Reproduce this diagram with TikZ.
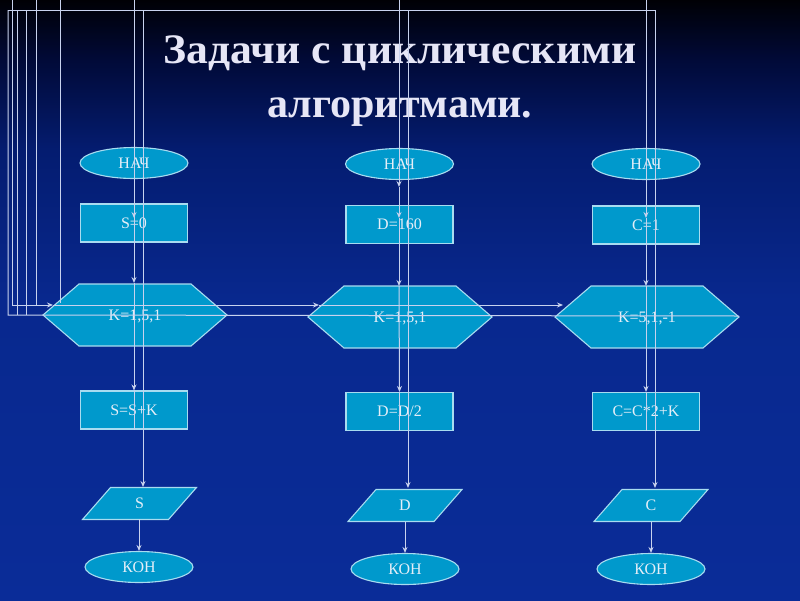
\documentclass[tikz,border=0pt]{standalone}
\usepackage{fontspec}
\setmainfont{Liberation Serif}
\usetikzlibrary{arrows.meta,shapes.geometric}
\definecolor{bx}{HTML}{0099CC}
\definecolor{bd}{HTML}{A8DCF0}
\definecolor{ln}{HTML}{C8D2EE}
\definecolor{txt}{HTML}{E4EEF8}
\definecolor{ttl}{HTML}{E6E6F6}
\definecolor{bga}{HTML}{0A2C98}
\definecolor{bgb}{HTML}{08288E}
\definecolor{bgc}{HTML}{041C70}
\definecolor{bgd}{HTML}{010A38}
\definecolor{bge}{HTML}{000005}
\pgfdeclareverticalshading{bgsh}{100bp}{color(0bp)=(bga); color(25bp)=(bga); color(50bp)=(bgb); color(62.5bp)=(bgc); color(70bp)=(bgd); color(75bp)=(bge); color(100bp)=(bge)}
\tikzset{
  blk/.style={draw=bd, fill=bx, line width=1.1pt},
  lbl/.style={text=txt, font=\fontsize{16}{18}\selectfont, inner sep=0pt},
  term/.style={blk, lbl, ellipse, minimum width=108pt, minimum height=31pt},
  proc/.style={blk, lbl, rectangle, minimum width=107pt, minimum height=38pt},
  conn/.style={draw=ln, line width=1pt},
  arr/.style={conn, -{Stealth[length=6pt,width=5pt]}},
  ttlsty/.style={text=ttl, font=\fontsize{42}{50}\selectfont\bfseries, anchor=base, inner sep=0pt}
}
\newcommand\myhex[4]{% name, cx, cy, text
  \draw[blk] ({#2-92},#3) -- ({#2-56},{#3-31}) -- ({#2+56},{#3-31}) -- ({#2+92},#3) -- ({#2+56},{#3+31}) -- ({#2-56},{#3+31}) -- cycle;
  \node[lbl] (#1) at (#2,{#3+1}) {#4};}
\newcommand\mypar[4]{% name, cx, cy, text
  \draw[blk] ({#2-29},{#3-16}) -- ({#2+57},{#3-16}) -- ({#2+29},{#3+16}) -- ({#2-57},{#3+16}) -- cycle;
  \node[lbl] (#1) at (#2,#3) {#4};}
\begin{document}
\begin{tikzpicture}[x=1pt,y=-1pt]
\useasboundingbox (0,0) rectangle (800,600);
\shade[shading=bgsh] (0,0) rectangle (800,600);

% title
\node[ttlsty] (t1) at (400,63) {\scalebox{1.04}[1]{Задачи с циклическими}};
\node[ttlsty] (t2) at (400,117) {алгоритмами.};

% column 1
\node[term] (n1) at (134,163) {НАЧ};
\node[proc] (a1) at (134,223) {S=0};
\myhex{h1}{135}{315}{K=1,5,1}
\node[proc] (b1) at (134,410) {S=S+K};
\mypar{o1}{139.5}{503.5}{S}
\node[term] (k1) at (139,567) {КОН};

% column 2
\node[term] (n2) at (399.5,164) {НАЧ};
\node[proc] (a2) at (399.5,224.5) {D=160};
\myhex{h2}{400}{317}{K=1,5,1}
\node[proc] (b2) at (399.5,411.5) {D=D/2};
\mypar{o2}{405}{505.5}{D}
\node[term] (k2) at (405,569) {КОН};

% column 3
\node[term] (n3) at (646,164) {НАЧ};
\node[proc] (a3) at (646,225) {C=1};
\myhex{h3}{647}{317}{K=5,1,-1}
\node[proc] (b3) at (646,411.5) {C=C*2+K};
\mypar{o3}{651}{505.5}{C}
\node[term] (k3) at (651,569) {КОН};

% coordinates
\coordinate (c1t) at (134,0);   \coordinate (c1h) at (134,283);
\coordinate (c2t) at (399,0);   \coordinate (c2h) at (399,286);
\coordinate (c3t) at (646,0);   \coordinate (c3h) at (646,286);
\coordinate (s1) at (143,10);   \coordinate (s1e) at (143,487);
\coordinate (s2) at (408,10);   \coordinate (s2e) at (408,488);
\coordinate (s3) at (655,10);   \coordinate (s3e) at (655,488);
\coordinate (o1b) at (139,519); \coordinate (o2b) at (405,522); \coordinate (o3b) at (651,522);
\coordinate (w1) at (53,305);   \coordinate (w2) at (319,305);  \coordinate (w3) at (563,305);
\coordinate (lx) at (8,10);     \coordinate (lb) at (8,315);    \coordinate (le) at (739,316);

% connectors
\draw[conn] (lx) -- (s3);
\draw[conn] (lx) -- (lb) -- (le);
\draw[conn] (17,10) -- (17,315);
\draw[conn] (26,10) -- (26,315);
\draw[conn] (36,0) -- (36,305);
\draw[conn] (60,0) -- (60,303);
\draw[arr] (12,0) |- (w1);
\draw[arr] (w1) -- (w2);
\draw[arr] (w2) -- (w3);

\draw[arr] (c1t) -- (c1h);
\draw[arr] (c1h) -- (b1.north);
\draw[conn] (b1.north) -- (b1.south);
\draw[arr] (n1.south) -- (134,218);
\draw[arr] (s1) -- (s1e);
\draw[arr] (o1b) -- (k1.north);

\draw[arr] (c2t) -- (399,187);
\draw[arr] (399,187) -- (399,218);
\draw[arr] (399,218) -- (c2h);
\draw[arr] (c2h) -- (b2.north);
\draw[conn] (b2.north) -- (b2.south);
\draw[arr] (s2) -- (s2e);
\draw[arr] (o2b) -- (k2.north);

\draw[arr] (c3t) -- (646,218);
\draw[arr] (646,218) -- (c3h);
\draw[arr] (c3h) -- (b3.north);
\draw[conn] (b3.north) -- (b3.south);
\draw[arr] (s3) -- (s3e);
\draw[arr] (o3b) -- (k3.north);
\end{tikzpicture}
\end{document}
